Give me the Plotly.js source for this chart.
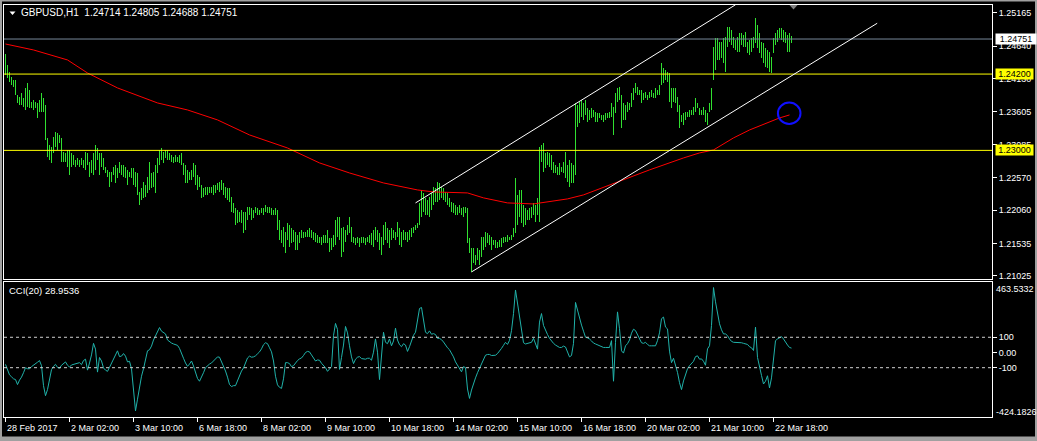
<!DOCTYPE html>
<html><head><meta charset="utf-8">
<script src="https://cdn.plot.ly/plotly-3.0.1.min.js"></script>
<style>html,body{margin:0;padding:0;background:#000;overflow:hidden}#chart{width:1037px;height:441px;}</style>
</head><body><div id="chart"></div>
<script>
const symbolTitle = 'GBPUSD,H1\u00a0\u00a01.24714 1.24805 1.24688 1.24751';
const cciTitle = 'CCI(20) 28.9536';
const timeTickBars = [0,32,64,96,128,160,192,224,256,288,320,352,384];
const timeTickLabels = ['28 Feb 2017','2 Mar 02:00','3 Mar 10:00','6 Mar 18:00','8 Mar 02:00','9 Mar 10:00','10 Mar 18:00','14 Mar 02:00','15 Mar 10:00','16 Mar 18:00','20 Mar 02:00','21 Mar 10:00','22 Mar 18:00'];
const priceTicks = [1.25165,1.24640,1.24130,1.23605,1.23085,1.22570,1.22060,1.21535,1.21025];
const priceTickText = ['1.25165','1.24640','1.24130','1.23605','1.23085','1.22570','1.22060','1.21535','1.21025'];
const cciTicks = [100,0,-100];
const cciTickText = ['100','0.00','-100'];
const cciMax = 463.5332, cciMin = -424.1826;
const bidPrice = 1.24751;
const levelPrices = [1.24200, 1.23000];

const highs = [
1.24516,1.24343,1.24233,1.24155,1.24107,1.24107,1.23872,1.23840,1.23903,1.23824,
1.23982,1.24060,1.23950,1.23762,1.23793,1.23762,1.23746,1.23793,1.23903,1.23824,
1.23714,1.23196,1.23086,1.23054,1.23211,1.23290,1.23274,1.23243,1.23196,1.22975,
1.22960,1.23007,1.23007,1.22960,1.22928,1.22850,1.22881,1.22850,1.22881,1.22850,
1.22975,1.22960,1.22818,1.22850,1.22960,1.23086,1.23038,1.22960,1.22960,1.22881,
1.22740,1.22693,1.22661,1.22661,1.22740,1.22771,1.22724,1.22818,1.22771,1.22771,
1.22740,1.22693,1.22661,1.22724,1.22724,1.22661,1.22645,1.22347,1.22410,1.22504,
1.22457,1.22583,1.22818,1.22645,1.22661,1.22771,1.22881,1.23007,1.23038,1.22975,
1.23007,1.23007,1.22960,1.22928,1.22897,1.22928,1.22897,1.22928,1.22960,1.22803,
1.22771,1.22693,1.22661,1.22693,1.22803,1.22771,1.22614,1.22583,1.22457,1.22410,
1.22425,1.22425,1.22425,1.22425,1.22457,1.22457,1.22488,1.22504,1.22535,1.22488,
1.22425,1.22410,1.22410,1.22268,1.22174,1.22095,1.22064,1.22032,1.22064,1.22032,
1.22032,1.22111,1.22111,1.22095,1.22064,1.22111,1.22095,1.22064,1.22095,1.22095,
1.22142,1.22111,1.22111,1.22095,1.22064,1.22095,1.22064,1.21907,1.21749,1.21797,
1.21718,1.21859,1.21828,1.21781,1.21749,1.21718,1.21671,1.21718,1.21749,1.21718,
1.21718,1.21749,1.21781,1.21749,1.21718,1.21702,1.21671,1.21639,1.21639,1.21671,
1.21671,1.21749,1.21624,1.21624,1.21671,1.21907,1.21954,1.21954,1.21781,1.21797,
1.21749,1.21828,1.21954,1.21797,1.21639,1.21624,1.21639,1.21624,1.21639,1.21639,
1.21624,1.21639,1.21671,1.21702,1.21749,1.21797,1.21749,1.21702,1.21639,1.21828,
1.21875,1.21781,1.21749,1.21781,1.21749,1.21718,1.21875,1.21781,1.21718,1.21749,
1.21718,1.21718,1.21749,1.21781,1.21797,1.21828,1.21859,1.22174,1.22378,1.22331,
1.22253,1.22221,1.22268,1.22331,1.22425,1.22410,1.22504,1.22488,1.22425,1.22410,
1.22347,1.22331,1.22253,1.22190,1.22174,1.22142,1.22111,1.22142,1.22095,1.22111,
1.22111,1.22095,1.21624,1.21467,1.21467,1.21356,1.21467,1.21435,1.21639,1.21639,
1.21718,1.21702,1.21671,1.21639,1.21592,1.21592,1.21561,1.21592,1.21624,1.21639,
1.21639,1.21671,1.21639,1.21671,1.21781,1.22567,1.22300,1.22378,1.22378,1.22142,
1.22095,1.22064,1.22095,1.22111,1.22174,1.22142,1.22253,1.23054,1.23086,1.23117,
1.22960,1.22975,1.22960,1.22928,1.22818,1.22771,1.22740,1.22803,1.22740,1.22818,
1.22975,1.22771,1.22850,1.22803,1.22771,1.23746,1.23714,1.23762,1.23793,1.23746,
1.23793,1.23667,1.23636,1.23667,1.23636,1.23604,1.23589,1.23589,1.23557,1.23557,
1.23589,1.23589,1.23604,1.23746,1.23683,1.23903,1.23982,1.23997,1.23872,1.23746,
1.23714,1.23762,1.23746,1.23903,1.23982,1.24060,1.23997,1.23950,1.23950,1.23903,
1.23919,1.23872,1.23919,1.23950,1.23903,1.23982,1.23950,1.24029,1.24375,1.24296,
1.24265,1.24233,1.24217,1.23982,1.23982,1.23982,1.23840,1.23714,1.23557,1.23589,
1.23604,1.23604,1.23636,1.23636,1.23683,1.23824,1.23746,1.23667,1.23636,1.23683,
1.23636,1.23589,1.23746,1.23982,1.24626,1.24768,1.24768,1.24705,1.24705,1.24768,
1.24783,1.24941,1.24941,1.24893,1.24783,1.24736,1.24783,1.24846,1.24846,1.24815,
1.24862,1.24705,1.24736,1.24768,1.24783,1.25082,1.24972,1.24846,1.24705,1.24689,
1.24610,1.24579,1.24548,1.24469,1.24768,1.24846,1.24893,1.24925,1.24925,1.24893,
1.24862,1.24815,1.24846,1.24805];

const lows = [
1.24186,1.24139,1.24076,1.24029,1.23997,1.23872,1.23746,1.23714,1.23714,1.23683,
1.23636,1.23683,1.23667,1.23667,1.23636,1.23667,1.23510,1.23604,1.23604,1.23604,
1.23164,1.22897,1.22850,1.22803,1.22960,1.23054,1.23007,1.23117,1.22818,1.22818,
1.22818,1.22740,1.22614,1.22740,1.22771,1.22740,1.22771,1.22740,1.22771,1.22724,
1.22693,1.22771,1.22583,1.22645,1.22614,1.22693,1.22850,1.22614,1.22740,1.22693,
1.22645,1.22583,1.22425,1.22504,1.22614,1.22488,1.22567,1.22645,1.22614,1.22583,
1.22567,1.22457,1.22583,1.22567,1.22457,1.22425,1.22300,1.22142,1.22221,1.22253,
1.22268,1.22331,1.22378,1.22410,1.22425,1.22331,1.22645,1.22771,1.22850,1.22803,
1.22881,1.22850,1.22850,1.22818,1.22803,1.22818,1.22818,1.22803,1.22771,1.22614,
1.22488,1.22488,1.22535,1.22535,1.22583,1.22457,1.22378,1.22425,1.22253,1.22268,
1.22300,1.22300,1.22331,1.22331,1.22300,1.22331,1.22378,1.22347,1.22378,1.22300,
1.22253,1.22221,1.22190,1.22032,1.22017,1.21828,1.21859,1.21875,1.21859,1.21702,
1.21749,1.21907,1.21985,1.21907,1.21938,1.22017,1.21985,1.21985,1.22017,1.21985,
1.22032,1.22017,1.22017,1.21985,1.21985,1.21985,1.21749,1.21592,1.21545,1.21482,
1.21388,1.21592,1.21482,1.21545,1.21561,1.21435,1.21435,1.21545,1.21624,1.21624,
1.21639,1.21639,1.21639,1.21624,1.21592,1.21561,1.21545,1.21545,1.21514,1.21545,
1.21545,1.21545,1.21404,1.21435,1.21482,1.21514,1.21639,1.21592,1.21325,1.21404,
1.21561,1.21671,1.21702,1.21561,1.21545,1.21514,1.21545,1.21482,1.21545,1.21545,
1.21514,1.21561,1.21545,1.21514,1.21482,1.21592,1.21561,1.21435,1.21356,1.21514,
1.21592,1.21545,1.21467,1.21592,1.21624,1.21592,1.21639,1.21514,1.21482,1.21592,
1.21592,1.21561,1.21592,1.21639,1.21702,1.21749,1.21781,1.21828,1.21954,1.22032,
1.21985,1.21985,1.21954,1.22064,1.22142,1.22190,1.22190,1.22221,1.22253,1.22221,
1.22190,1.22142,1.22111,1.22032,1.22017,1.21985,1.21985,1.22017,1.21985,1.21954,
1.22017,1.21545,1.21388,1.21089,1.21231,1.21199,1.21278,1.21199,1.21325,1.21435,
1.21482,1.21545,1.21514,1.21435,1.21514,1.21467,1.21467,1.21482,1.21482,1.21545,
1.21561,1.21561,1.21592,1.21592,1.21639,1.21702,1.21828,1.21954,1.21859,1.21797,
1.21828,1.21907,1.21907,1.21938,1.21985,1.21875,1.21985,1.21875,1.22818,1.22661,
1.22724,1.22771,1.22740,1.22693,1.22645,1.22645,1.22614,1.22614,1.22661,1.22645,
1.22567,1.22504,1.22425,1.22488,1.22488,1.22614,1.23369,1.23431,1.23526,1.23479,
1.23557,1.23447,1.23479,1.23510,1.23526,1.23447,1.23447,1.23510,1.23479,1.23447,
1.23479,1.23510,1.23510,1.23526,1.23243,1.23589,1.23762,1.23793,1.23353,1.23479,
1.23479,1.23604,1.23636,1.23683,1.23793,1.23903,1.23872,1.23872,1.23746,1.23793,
1.23824,1.23793,1.23824,1.23840,1.23824,1.23824,1.23872,1.23872,1.24029,1.24060,
1.24107,1.24076,1.23762,1.23667,1.23762,1.23746,1.23604,1.23353,1.23447,1.23400,
1.23479,1.23526,1.23526,1.23557,1.23557,1.23604,1.23667,1.23557,1.23557,1.23557,
1.23447,1.23400,1.23604,1.23636,1.24107,1.24265,1.24422,1.24422,1.24453,1.24375,
1.24233,1.24626,1.24705,1.24658,1.24610,1.24579,1.24548,1.24548,1.24658,1.24626,
1.24626,1.24532,1.24500,1.24548,1.24610,1.24689,1.24610,1.24532,1.24453,1.24375,
1.24312,1.24296,1.24233,1.24217,1.24532,1.24658,1.24705,1.24768,1.24736,1.24705,
1.24689,1.24548,1.24548,1.24688];

const maBars = [0,14,31,41,56,76,91,106,122,129,141,157,172,189,206,214,231,239,251,264,272,281,289,306,322,339,347,354,364,372,381,387,392];
const maValues = [1.24673,1.24579,1.24422,1.24217,1.23982,1.23746,1.23636,1.23479,1.23243,1.23164,1.23038,1.22803,1.22645,1.22488,1.22378,1.22347,1.22331,1.22253,1.22174,1.22158,1.22190,1.22237,1.22300,1.22504,1.22693,1.22881,1.22960,1.23007,1.23196,1.23321,1.23431,1.23510,1.23557];

const cciValues = [
-78,-107,-147,-160,-173,-178,-211,-182,-162,-133,
-100,-107,-107,-93,-84,-78,-64,-53,-87,-218,
-284,-244,-171,-113,-91,-78,-98,-104,-84,-71,
-62,-84,-96,-82,-78,-78,-69,-67,-80,-53,
-44,-116,-69,-16,60,22,-129,-33,-56,-102,
-116,-124,-98,-69,-38,-9,11,-27,-24,-7,
-24,-62,-58,-107,-240,-384,-307,-218,-156,-107,
-44,11,18,42,82,113,140,164,140,133,
122,82,71,62,56,53,47,27,0,-38,
-69,-91,-76,-56,-89,-133,-171,-189,-164,-133,
-100,-87,-76,-69,-56,-40,-29,-31,-58,-84,
-122,-162,-211,-224,-218,-218,-184,-153,-122,-102,
-64,-36,-24,-31,-29,-22,-9,4,24,51,
64,58,31,4,-56,-156,-213,-229,-236,-173,
-67,-67,-73,-93,-87,-67,-53,-42,-36,-20,
0,7,4,-16,-36,-56,-49,-51,-71,-87,
-100,-124,-107,-93,111,191,151,-111,-33,49,
171,129,44,-29,-73,-44,-31,-27,-40,-44,
-44,-38,-38,-51,2,89,2,-178,-44,133,
67,58,89,44,76,160,82,51,38,58,
49,7,38,84,113,133,213,289,296,202,
133,124,142,120,124,118,93,93,84,69,
49,31,18,-2,-29,-62,-87,-109,-127,-93,
-100,-240,-302,-247,-198,-167,-133,-102,-76,-47,
-18,-13,-13,-20,-20,-18,-7,7,27,47,
67,53,80,144,256,411,327,244,133,64,
56,60,62,67,93,56,22,200,256,178,
144,118,93,73,60,49,40,33,33,42,
36,0,-29,-20,60,329,276,213,180,140,
100,96,89,76,62,56,51,42,36,33,
33,33,33,78,-189,67,267,156,11,-4,
44,58,82,127,153,144,118,91,64,60,
67,53,44,44,44,44,78,129,222,233,
167,155,9,-67,-38,-78,-131,-198,-244,-187,
-144,-107,-87,-71,-58,-27,-22,-44,-42,-58,
-84,24,44,178,427,333,267,189,149,122,
122,111,89,73,67,67,67,67,64,60,
58,53,38,31,13,167,-33,-104,-151,-207,
-189,-153,-233,-167,-22,78,89,98,104,89,
67,49,33,28.9536];

// ---------- drawing ----------
const barIdx = highs.map((_, i) => i);
const FONT = 'Liberation Sans, Arial, sans-serif';
const GREEN = '#30e030';

const traces = [
  { type: 'bar', x: barIdx, base: lows, y: highs.map((h, i) => h - lows[i]),
    width: 0.5, marker: { color: GREEN, line: { width: 0 } },
    xaxis: 'x', yaxis: 'y', hoverinfo: 'skip', showlegend: false },
  { type: 'scatter', mode: 'lines', x: maBars, y: maValues,
    line: { color: '#ff0000', width: 1 }, xaxis: 'x', yaxis: 'y', hoverinfo: 'skip', showlegend: false },
  { type: 'scatter', mode: 'lines', x: barIdx, y: cciValues,
    line: { color: '#20b2aa', width: 1 }, xaxis: 'x2', yaxis: 'y2', hoverinfo: 'skip', showlegend: false }
];

// pixel helpers for decorations outside the data (frame, title)
const px = p => (p - 4) / 988;
const py = p => (417 - p) / 412;

const shapes = [
  { type: 'line', xref: 'paper', yref: 'y', x0: 0, x1: 1, y0: bidPrice, y1: bidPrice, line: { color: '#778899', width: 1 } },
  ...levelPrices.map(v => ({ type: 'line', xref: 'paper', yref: 'y', x0: 0, x1: 1, y0: v, y1: v, line: { color: '#ffff00', width: 1 } })),
  // price channel
  { type: 'line', xref: 'x', yref: 'y', x0: 205, y0: 1.22174, x1: 365, y1: 1.25290, line: { color: '#ffffff', width: 1 } },
  { type: 'line', xref: 'x', yref: 'y', x0: 233, y0: 1.21089, x1: 435.85, y1: 1.24999, line: { color: '#ffffff', width: 1 } },
  // blue marker circle
  { type: 'circle', xref: 'x', yref: 'y', x0: 386.2, x1: 397.5, y0: 1.23416, y1: 1.23751, line: { color: '#1010ff', width: 2 } },
  // CCI levels
  ...[100, -100].map(v => ({ type: 'line', xref: 'paper', yref: 'y2', x0: 0, x1: 1, y0: v, y1: v, line: { color: '#d0d0d0', width: 1, dash: '3px,3px' } })),
  // chart shift marker
  { type: 'path', xref: 'x', yref: 'paper', path: 'M 392 1 L 396 1 L 394 ' + py(9.5) + ' Z', fillcolor: '#808080', line: { width: 0 } },
  // title triangle
  { type: 'path', xref: 'paper', yref: 'paper', path: `M ${px(9.5)} ${py(11.5)} L ${px(15.5)} ${py(11.5)} L ${px(12.5)} ${py(15)} Z`, fillcolor: '#ffffff', line: { width: 0 } },
  // window frame
  { type: 'rect', xref: 'paper', yref: 'paper', x0: px(0), x1: px(2), y0: py(441), y1: py(0), fillcolor: '#a0a0a0', line: { width: 0 } },
  { type: 'rect', xref: 'paper', yref: 'paper', x0: px(0), x1: px(1037), y0: py(1.5), y1: py(0), fillcolor: '#a0a0a0', line: { width: 0 } },
  { type: 'rect', xref: 'paper', yref: 'paper', x0: px(0), x1: px(1037), y0: py(441), y1: py(436.5), fillcolor: '#a0a0a0', line: { width: 0 } },
  { type: 'rect', xref: 'paper', yref: 'paper', x0: px(1035), x1: px(1037), y0: py(441), y1: py(0), fillcolor: '#a0a0a0', line: { width: 0 } }
];

const annotations = [
  { xref: 'paper', yref: 'paper', x: px(20), y: py(13), xanchor: 'left', yanchor: 'middle', showarrow: false, borderpad: 0,
    text: symbolTitle, font: { family: FONT, size: 10, color: '#ffffff' } },
  { xref: 'paper', yref: 'paper', x: px(8), y: py(290.3), xanchor: 'left', yanchor: 'middle', showarrow: false, borderpad: 0,
    text: cciTitle, font: { family: FONT, size: 9.5, color: '#ffffff' } },
  { xref: 'paper', yref: 'y', x: 1, xshift: 3, y: bidPrice, xanchor: 'left', yanchor: 'middle', showarrow: false, borderpad: 0,
    width: 40, height: 10, bgcolor: '#ffffff', text: bidPrice.toFixed(5), font: { family: FONT, size: 9, color: '#000000' } },
  ...levelPrices.map(v => ({ xref: 'paper', yref: 'y', x: 1, xshift: 3, y: v, xanchor: 'left', yanchor: 'middle', showarrow: false, borderpad: 0,
    width: 37, height: 10, bgcolor: '#ffff00', text: v.toFixed(5), font: { family: FONT, size: 9, color: '#000000' } })),
  { xref: 'paper', yref: 'paper', x: 1, xshift: 3, y: py(288.8), xanchor: 'left', yanchor: 'middle', showarrow: false, borderpad: 0,
    text: cciMax.toFixed(4), font: { family: FONT, size: 9, color: '#ffffff' } },
  { xref: 'paper', yref: 'paper', x: 1, xshift: 3, y: py(412), xanchor: 'left', yanchor: 'middle', showarrow: false, borderpad: 0,
    text: cciMin.toFixed(4), font: { family: FONT, size: 9, color: '#ffffff' } },
  ...timeTickBars.map((b, k) => ({ xref: 'x2', yref: 'paper', x: b, y: 0, yshift: -10.5, xanchor: 'left', yanchor: 'middle',
    showarrow: false, borderpad: 0, text: timeTickLabels[k], font: { family: FONT, size: 9, color: '#ffffff' } }))
];

const axLine = { showline: true, mirror: true, linecolor: '#ffffff', linewidth: 1, showgrid: false, zeroline: false };
const xRange = [-0.75, 493.25];

const layout = {
  width: 1037, height: 441,
  margin: { l: 4, r: 45, t: 5, b: 24, pad: 0 },
  paper_bgcolor: '#000000', plot_bgcolor: '#000000',
  showlegend: false, bargap: 0,
  font: { family: FONT, size: 9, color: '#ffffff' },
  xaxis: Object.assign({ domain: [0, 1], anchor: 'y', range: xRange, showticklabels: false, ticks: '', fixedrange: true }, axLine),
  xaxis2: Object.assign({ domain: [0, 1], anchor: 'y2', range: xRange, tickvals: timeTickBars, showticklabels: false,
    ticks: 'outside', ticklen: 4, tickcolor: '#ffffff', tickwidth: 1, fixedrange: true }, axLine),
  yaxis: Object.assign({ domain: [0.335, 1], anchor: 'x', side: 'right', range: [1.20978, 1.25286],
    tickvals: priceTicks, ticktext: priceTickText, ticks: 'outside', ticklen: 4, tickcolor: '#ffffff', tickwidth: 1,
    tickfont: { family: FONT, size: 9, color: '#ffffff' }, fixedrange: true }, axLine),
  yaxis2: Object.assign({ domain: [0, 0.3277], anchor: 'x2', side: 'right', range: [cciMin, cciMax],
    tickvals: cciTicks, ticktext: cciTickText, ticks: 'outside', ticklen: 4, tickcolor: '#ffffff', tickwidth: 1,
    tickfont: { family: FONT, size: 9, color: '#ffffff' }, fixedrange: true }, axLine),
  shapes: shapes,
  annotations: annotations
};

Plotly.newPlot('chart', traces, layout, { staticPlot: true, displayModeBar: false });
</script>
</body></html>
